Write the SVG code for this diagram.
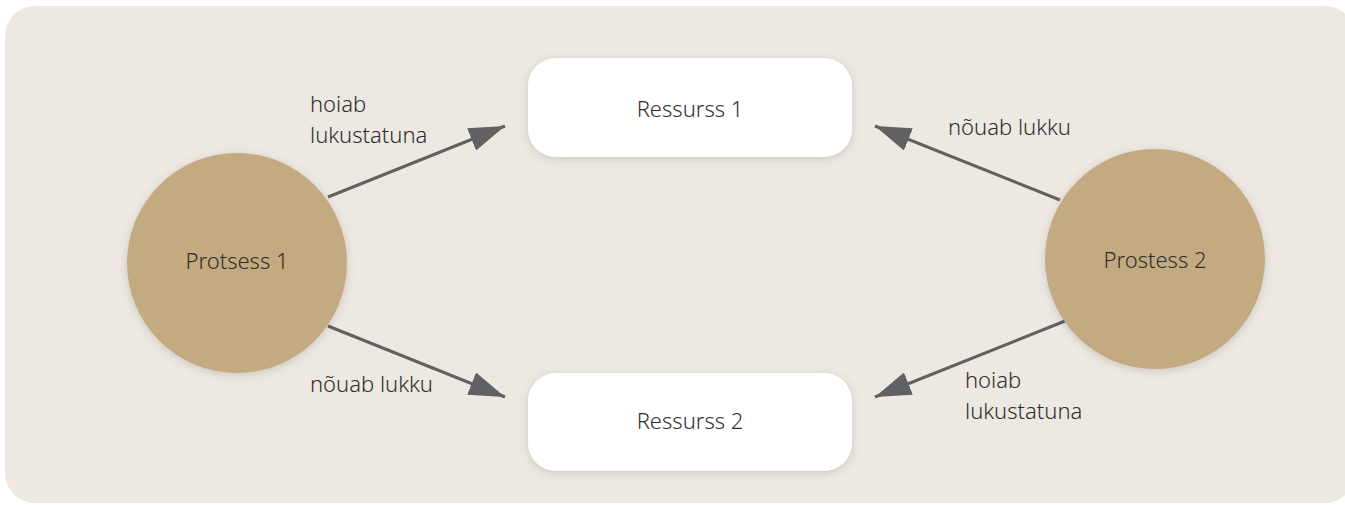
<svg xmlns="http://www.w3.org/2000/svg" width="1345" height="505" viewBox="0 0 1345 505">
<defs>
<filter id="sh" x="-20%" y="-20%" width="140%" height="140%">
<feDropShadow dx="0" dy="2" stdDeviation="4" flood-color="#000" flood-opacity="0.15"/>
</filter>
<marker id="ah" viewBox="0 0 36 24" refX="36" refY="12" markerWidth="36" markerHeight="24" markerUnits="userSpaceOnUse" orient="auto">
<path d="M0,0 L36,12 L0,24 Z" fill="#616164"/>
</marker>
<style>
.t{font-family:"Noto Sans",Lato,sans-serif;font-weight:300;font-size:22px;fill:#2e2e2e}
.c{text-anchor:middle;dominant-baseline:central}
.proc{fill:#c4aa80;filter:url(#sh)}
.res{fill:#ffffff;filter:url(#sh)}
.ln{stroke:#616164;stroke-width:3;fill:none;marker-end:url(#ah)}
</style>
</defs>
<rect x="5" y="6" width="1350" height="497" rx="30" fill="#ede8e2"/>
<g id="connectors">
<line class="ln" x1="328" y1="197" x2="505" y2="126"/>
<line class="ln" x1="328" y1="326" x2="505" y2="397"/>
<line class="ln" x1="1060" y1="200" x2="875" y2="126"/>
<line class="ln" x1="1065" y1="321" x2="875" y2="397"/>
<text class="t" x="310" y="112">hoiab</text>
<text class="t" x="310" y="142.5">lukustatuna</text>
<text class="t" x="310" y="392">nõuab lukku</text>
<text class="t" x="948" y="135">nõuab lukku</text>
<text class="t" x="965" y="388">hoiab</text>
<text class="t" x="965" y="418.5">lukustatuna</text>
</g>
<g id="protsess1">
<circle class="proc" cx="237" cy="263" r="110"/>
<text class="t c" x="237" y="260">Protsess 1</text>
</g>
<g id="protsess2">
<circle class="proc" cx="1155" cy="259" r="110"/>
<text class="t c" x="1155" y="259">Prostess 2</text>
</g>
<g id="ressurss1">
<rect class="res" x="528" y="58" width="324" height="99" rx="28"/>
<text class="t c" x="690" y="108">Ressurss 1</text>
</g>
<g id="ressurss2">
<rect class="res" x="528" y="373" width="324" height="98" rx="28"/>
<text class="t c" x="690" y="420">Ressurss 2</text>
</g>
</svg>
